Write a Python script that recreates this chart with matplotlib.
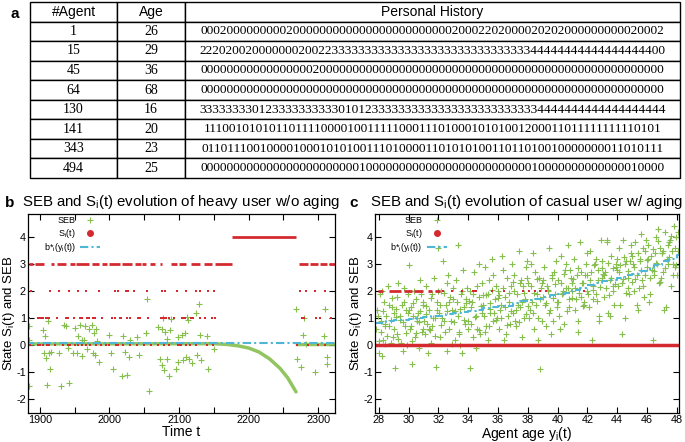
import matplotlib
matplotlib.use('Agg')
import matplotlib.pyplot as plt
from matplotlib.lines import Line2D

plt.rcParams['font.family'] = ['Liberation Sans', 'DejaVu Sans']
plt.rcParams['mathtext.default'] = 'regular'
plt.rcParams['axes.unicode_minus'] = False

RED = '#d42a2f'
GREEN = '#86bf4e'
CYAN = '#4fb6d6'

# ---- panel a: table ----
col_labels = ['#Agent', 'Age', 'Personal History']
agents = ['1', '15', '45', '64', '130', '141', '343', '494']
ages = ['26', '29', '36', '68', '16', '20', '23', '25']
histories = [
    '0002000000000200000000000000000000000020002202000020202000000000020002',
    '2220200200000002002233333333333333333333333333333344444444444444444400',
    '0000000000000000020000000000000000000000000000000000000000000000000000',
    '0000000000000000000000000000000000000000000000000000000000000000000000',
    '3333333301233333333330101233333333333333333333333334444444444444444444',
    '1110010101011011110000100111110001110100010101001200011011111111110101',
    '0110111001000010001010100111010000110101010011011010010000000011010111',
    '0000000000000000000000001000000000000000000000000010000000000000010000',
]

# ---- panel b: heavy user w/o aging ----
b_seb_t = [1884, 1885, 1885, 1905, 1906, 1908, 1909, 1910, 1912, 1913, 1914, 1916,
           1928, 1930, 1935, 1938, 1940, 1942, 1947, 1951, 1953, 1955, 1957, 1960,
           1961, 1963, 1965, 1968, 1970, 1975, 1976, 1978, 1979, 1980, 1982, 1985,
           2000, 2002, 2005, 2018, 2020, 2022, 2025, 2028, 2030, 2040, 2042, 2053,
           2054, 2057, 2070, 2072, 2075, 2076, 2077, 2079, 2080, 2082, 2083, 2085,
           2087, 2088, 2096, 2098, 2099, 2104, 2106, 2108, 2110, 2111, 2113, 2114,
           2118, 2124, 2126, 2128, 2130, 2131, 2140, 2141, 2150, 2268, 2270, 2275,
           2278, 2279, 2282, 2295, 2308, 2309, 2312, 2313]
b_seb_v = [0.70, 0.20, -1.52, 0.55, -0.30, 0.35, -0.48, -1.45, 0.88, -0.28, -0.88, -0.25,
           -0.27, -1.50, 0.75, 0.72, -0.10, -1.38, -0.28, 0.63, -0.30, 0.35, 0.75, -0.38,
           0.18, 0.20, 0.73, -0.12, 0.60, 0.75, -0.28, 0.45, -0.35, 0.60, 0.15, -0.62,
           0.38, -0.30, -0.88, -1.12, 0.36, -0.25, -1.08, -0.44, 0.20, 0.30, -0.35, 0.47,
           1.72, -1.70, 0.68, -0.50, 0.62, -0.73, 1.00, -0.90, 0.48, -0.50, 0.22, -1.12,
           0.58, 0.98, -0.86, 0.32, -0.60, 0.38, -0.55, 0.45, -0.43, 1.05, 0.95, -0.50,
           -0.65, 1.20, -0.37, 1.52, 0.37, -0.55, 0.35, -0.87, -0.12, 1.33, -0.50, -0.80,
           0.38, 1.02, 0.05, -0.98, 0.36, 1.33, -0.45, -0.68]
# dense SEB band and its decay while the user sits in state 4
b_trend_t = [1880, 2150, 2170, 2185, 2200, 2215, 2230, 2245, 2256, 2268]
b_trend_v = [0.05, 0.06, 0.03, -0.02, -0.10, -0.25, -0.50, -0.85, -1.20, -1.72]
b_trend2_t = [2270, 2325]
b_trend2_v = [0.05, 0.05]
b_bstar_t = [1880, 2325]
b_bstar_v = [0.08, 0.08]
b_s3_runs = [(1884, 1890), (1893, 1906), (1916, 1921), (1924, 1938), (1944, 1950),
             (1952, 1970), (1975, 1985), (1990, 1996), (1999, 2015), (2018, 2032),
             (2037, 2045), (2047, 2052), (2058, 2066), (2072, 2076), (2088, 2097),
             (2100, 2110), (2117, 2130), (2136, 2148), (2151, 2176),
             (2272, 2285), (2288, 2300), (2303, 2312), (2315, 2324)]
b_s4_runs = [(2176, 2268)]
b_s2_t = [1888, 1914, 1928, 1942, 1955, 1967, 1985, 2008, 2013, 2024, 2027, 2035, 2054,
          2075, 2080, 2097, 2110, 2125, 2130, 2141, 2150, 2274, 2282, 2295, 2310]
b_s1_t = [1885, 1898, 1900, 1902, 1904, 1909, 1911, 1913, 1925, 1937, 1939, 1941, 1949,
          1957, 1960, 1968, 1970, 1977, 1979, 1990, 2003, 2008, 2015, 2017, 2025, 2029,
          2041, 2044, 2056, 2074, 2076, 2078, 2081, 2085, 2093, 2104, 2107, 2109, 2117,
          2120, 2130, 2137, 2148, 2151, 2277, 2280, 2296, 2303, 2318]
b_s0_t = [1884, 1886, 1898, 1900, 1904, 1910, 1913, 1922, 1933, 1940, 1943, 1950, 1955,
          1961, 1966, 1972, 1981, 1988, 1995, 2000, 2010, 2013, 2020, 2030, 2040, 2050,
          2060, 2070, 2078, 2085, 2098, 2100, 2103, 2110, 2115, 2125, 2140, 2149, 2270,
          2285, 2300, 2310]

# ---- panel c: casual user w/ aging ----
c_seb_age = [
    27.85, 27.9, 28.0, 28.05, 28.1, 28.15, 28.2, 28.25, 28.3, 28.35, 28.4, 28.45, 28.5, 28.6, 28.7, 28.8, 28.9, 28.95,
    29.05, 29.1, 29.15, 29.2, 29.25, 29.3, 29.4, 29.5, 29.55, 29.6, 29.7, 29.75, 29.8, 29.9, 29.95,
    30.0, 30.1, 30.15, 30.2, 30.25, 30.3, 30.4, 30.45, 30.5, 30.55, 30.6, 30.7, 30.75, 30.8, 30.9, 30.95,
    31.0, 31.1, 31.15, 31.2, 31.25, 31.3, 31.4, 31.45, 31.5, 31.55, 31.6, 31.7, 31.8, 31.85, 31.9,
    32.0, 32.05, 32.1, 32.2, 32.25, 32.3, 32.4, 32.5, 32.55, 32.6, 32.65, 32.7, 32.8, 32.9, 32.95,
    33.0, 33.1, 33.15, 33.2, 33.3, 33.35, 33.4, 33.45, 33.5, 33.6, 33.65, 33.7, 33.8, 33.85, 33.9,
    34.0, 34.1, 34.15, 34.2, 34.25, 34.3, 34.4, 34.5, 34.55, 34.6, 34.7, 34.75, 34.8, 34.9, 34.95,
    35.0, 35.1, 35.15, 35.2, 35.3, 35.35, 35.4, 35.45, 35.5, 35.6, 35.65, 35.7, 35.8, 35.9, 35.95,
    36.0, 36.1, 36.15, 36.2, 36.3, 36.35, 36.4, 36.5, 36.55, 36.6, 36.7, 36.75, 36.8, 36.9, 36.95,
    37.0, 37.1, 37.15, 37.2, 37.3, 37.35, 37.4, 37.5, 37.55, 37.6, 37.7, 37.75, 37.8, 37.9, 37.95,
    38.0, 38.1, 38.15, 38.2, 38.3, 38.35, 38.4, 38.5, 38.55, 38.6, 38.7, 38.75, 38.8, 38.9, 38.95,
    39.0, 39.1, 39.15, 39.2, 39.3, 39.35, 39.4, 39.5, 39.55, 39.6, 39.7, 39.75, 39.8, 39.9, 39.95,
    40.0, 40.1, 40.15, 40.2, 40.3, 40.35, 40.4, 40.5, 40.55, 40.6, 40.7, 40.75, 40.8, 40.9, 40.95,
    41.0, 41.1, 41.15, 41.2, 41.3, 41.35, 41.4, 41.5, 41.55, 41.6, 41.7, 41.75, 41.8, 41.9, 41.95,
    42.0, 42.1, 42.15, 42.2, 42.3, 42.35, 42.4, 42.5, 42.55, 42.6, 42.7, 42.75, 42.8, 42.9, 42.95,
    43.0, 43.1, 43.15, 43.2, 43.3, 43.35, 43.4, 43.5, 43.55, 43.6, 43.7, 43.75, 43.8, 43.9, 43.95,
    44.0, 44.1, 44.15, 44.2, 44.3, 44.35, 44.4, 44.5, 44.55, 44.6, 44.7, 44.75, 44.8, 44.9, 44.95,
    45.0, 45.1, 45.15, 45.2, 45.3, 45.35, 45.4, 45.5, 45.55, 45.6, 45.7, 45.75, 45.8, 45.9, 45.95,
    46.0, 46.1, 46.15, 46.2, 46.3, 46.35, 46.4, 46.5, 46.55, 46.6, 46.7, 46.75, 46.8, 46.9, 46.95,
    47.0, 47.1, 47.15, 47.2, 47.3, 47.35, 47.4, 47.5, 47.55, 47.6, 47.7, 47.75, 47.8, 47.9, 47.95,
    48.0, 48.05, 48.1,
    27.95, 28.12, 28.28, 28.42, 28.55, 28.68, 28.82, 28.92,
    29.02, 29.18, 29.32, 29.45, 29.62, 29.72, 29.85, 29.98,
    30.05, 30.18, 30.33, 30.48, 30.62, 30.72, 30.85, 30.98,
    31.05, 31.18, 31.35, 31.48, 31.62, 31.75, 31.88, 31.98,
    32.08, 32.18, 32.35, 32.45, 32.58, 32.72, 32.85, 32.98,
    33.05, 33.22, 33.38, 33.48, 33.62, 33.72, 33.88, 33.98,
    34.05, 34.18, 34.35, 34.45, 34.62, 34.72, 34.85, 34.98,
    35.05, 35.22, 35.38, 35.48, 35.58, 35.72, 35.85, 35.98,
    36.05, 36.22, 36.32, 36.45, 36.62, 36.72, 36.85, 36.98,
    37.05, 37.22, 37.38, 37.45, 37.62, 37.72, 37.85, 37.98,
    38.05, 38.22, 38.32, 38.45, 38.62, 38.72, 38.85, 38.98,
    39.05, 39.22, 39.38, 39.45, 39.62, 39.72, 39.85, 39.98,
    40.05, 40.22, 40.38, 40.45, 40.62, 40.72, 40.85, 40.98,
    41.05, 41.22, 41.38, 41.45, 41.62, 41.72, 41.85, 41.98,
    42.05, 42.22, 42.38, 42.45, 42.62, 42.72, 42.85, 42.98,
    43.05, 43.22, 43.38, 43.45, 43.62, 43.72, 43.85, 43.98,
    44.05, 44.22, 44.38, 44.45, 44.62, 44.72, 44.85, 44.98,
    45.05, 45.22, 45.38, 45.45, 45.62, 45.72, 45.85, 45.98,
    46.05, 46.22, 46.38, 46.45, 46.62, 46.72, 46.85, 46.98,
    47.05, 47.22, 47.38, 47.45, 47.62, 47.72, 47.85, 47.98,
]
c_seb_val = [
    0.6, 1.3, -0.3, 0.15, 1.9, 0.9, -0.4, 2.0, 0.2, 1.6, 0.05, 0.8, 1.1, 2.2, 0.7, 0.1, 1.4, 0.3,
    1.2, -0.85, 1.05, 0.4, 1.8, 2.3, 0.95, 0.1, 1.5, -0.2, 2.1, 0.7, 1.3, 0.0, 1.9,
    2.95, 0.6, 1.4, -0.7, 0.15, 1.1, 2.0, 0.3, 1.7, 1.0, 0.9, -0.1, 2.4, 1.25, 0.5, 1.6,
    1.5, 0.4, 1.15, 2.2, 0.8, -0.3, 1.3, 0.55, 0.1, 1.9, 0.7, 2.5, 1.0, -0.8, 1.6,
    3.6, 1.2, 0.3, 2.0, 1.0, 3.1, 0.9, 1.5, -0.2, 2.3, 2.6, 0.6, 1.8, 0.05, 1.3,
    1.7, 0.2, 1.25, 2.4, 3.72, 1.1, 0.5, 0.0, 1.9, -0.3, 2.8, 1.4, 0.8, 1.55, 2.1,
    0.9, -0.85, 2.0, 1.4, 1.6, 0.3, 2.7, 1.1, -0.1, 0.6, 1.8, 3.0, 0.4, 2.3, 1.2,
    1.5, 2.9, 0.5, 0.7, 1.9, 0.2, 2.4, 1.35, 1.2, 3.2, 2.6, 0.9, 1.7, 2.2, 1.0,
    2.0, 0.6, 1.3, 1.5, 3.3, 2.8, 0.2, 1.8, 0.4, 2.5, 1.1, 1.6, 0.8, 2.2, 3.0,
    1.2, 2.6, 0.9, 0.7, 1.9, 1.5, 3.5, 1.4, 2.4, 0.3, 2.2, 1.0, 1.7, 2.9, 3.1,
    2.3, 1.0, 1.3, 3.0, 1.6, 3.4, 0.6, 2.7, 1.5, 1.9, 0.2, 2.5, -0.87, 2.1, 0.9,
    1.8, 2.9, 1.5, 0.7, 2.2, 2.0, 3.6, 1.3, 0.4, 2.5, 0.9, 2.7, 1.9, 3.1, 1.6,
    2.4, 1.1, 0.6, 3.3, 1.9, 2.0, 0.8, 2.8, 3.0, 2.1, 3.7, 1.7, 1.4, 2.5, 2.3,
    2.0, 3.2, 2.1, 1.3, 2.6, 0.5, 0.9, 3.8, 2.7, 1.8, 2.3, 1.6, 1.5, 3.0, 3.4,
    2.6, 1.4, 2.4, 3.5, 0.2, 1.7, 2.2, 3.0, 3.2, 1.9, 2.8, 0.9, 1.1, 3.9, 2.5,
    3.1, 1.8, 2.6, 2.7, 3.8, 3.9, 1.2, 2.4, 1.1, 3.3, 2.0, 2.2, 1.5, 3.0, 2.9,
    2.8, 3.6, 2.7, 1.5, 2.3, 0.4, 3.9, 1.0, 3.0, 3.1, 2.5, 2.1, 1.9, 3.4, 3.7,
    3.3, 2.0, 2.9, 3.8, 2.6, 1.5, 1.3, 3.1, 3.2, 4.1, 2.4, 2.2, 1.8, 3.5, 3.9,
    2.9, 3.7, 1.6, 1.9, 3.3, 2.8, 0.2, 2.6, 3.4, 4.0, 3.0, 4.3, 2.3, 3.6, 2.5,
    3.4, 2.7, 1.3, 4.2, 1.4, 3.2, 3.0, 3.8, 3.9, 2.2, 3.5, 2.6, 4.4, 2.9, 4.0,
    2.6, 4.2, 3.5,
    1.1, 0.5, 1.25, 0.7, 0.35, 1.5, 0.95, 1.75,
    0.6, 1.35, 0.25, 1.1, 0.85, 1.6, 0.45, 1.2,
    1.3, 0.7, 1.55, 0.45, 1.2, 0.85, 1.9, 0.6,
    0.9, 1.45, 0.6, 1.75, 1.0, 0.35, 1.3, 2.0,
    1.5, 0.75, 1.95, 0.5, 1.25, 1.6, 0.9, 2.1,
    0.85, 1.6, 0.4, 1.35, 2.0, 0.95, 1.7, 0.6,
    1.65, 0.8, 1.9, 1.05, 2.2, 0.55, 1.45, 1.85,
    1.1, 1.85, 0.7, 1.55, 2.05, 1.2, 0.95, 1.75,
    1.85, 1.0, 2.1, 1.4, 0.75, 1.95, 1.25, 2.35,
    2.0, 1.3, 0.85, 2.3, 1.6, 1.95, 1.15, 2.5,
    1.45, 2.2, 1.2, 1.95, 2.45, 1.0, 1.7, 2.3,
    2.4, 1.55, 2.05, 1.2, 2.6, 1.75, 2.25, 1.4,
    1.6, 2.3, 1.95, 2.65, 1.25, 2.1, 2.8, 1.75,
    2.45, 1.7, 2.85, 1.95, 2.3, 1.45, 2.6, 2.0,
    1.9, 2.7, 2.05, 2.95, 1.65, 2.4, 2.15, 2.85,
    2.65, 2.1, 3.05, 1.85, 2.5, 2.85, 2.25, 3.2,
    2.2, 2.95, 2.45, 3.25, 1.95, 2.75, 3.1, 2.35,
    3.0, 2.45, 3.4, 2.1, 2.8, 3.6, 2.6, 3.15,
    3.2, 2.5, 3.55, 2.75, 3.05, 3.85, 2.35, 3.4,
    3.5, 2.85, 3.7, 3.25, 4.05, 3.0, 3.6, 2.95,
]
c_bstar_age = [27.75, 28.5, 29.0, 29.5, 30.0, 30.5, 31.0, 31.5, 32.0, 32.5, 33.0, 33.5,
               34.0, 34.5, 35.0, 35.5, 36.0, 36.5, 37.0, 37.5, 38.0, 38.5, 39.0, 39.5,
               40.0, 40.5, 41.0, 41.5, 42.0, 42.5, 43.0, 43.5, 44.0, 44.5, 45.0, 45.5,
               46.0, 46.5, 47.0, 47.5, 48.0, 48.2]
c_bstar_val = [0.82, 0.88, 0.92, 0.95, 0.98, 1.02, 1.05, 1.08, 1.10, 1.14, 1.18, 1.22,
               1.27, 1.32, 1.36, 1.42, 1.45, 1.47, 1.55, 1.62, 1.68, 1.72, 1.78, 1.85,
               1.88, 1.95, 2.05, 2.12, 2.22, 2.30, 2.38, 2.42, 2.50, 2.58, 2.65, 2.75,
               2.82, 2.95, 3.10, 3.18, 3.35, 3.40]
c_s0_runs = [(27.75, 48.15)]
c_s2_runs = [(27.95, 28.3), (28.7, 29.5), (29.7, 30.2), (30.35, 31.0), (31.3, 31.6), (31.8, 32.1)]
c_s2_age = [32.3, 32.9, 33.6, 34.3, 34.4, 34.5, 35.6, 36.4, 37.7, 38.1, 38.5, 38.8, 39.2, 41.8]

fig = plt.figure(figsize=(6.85, 4.42), dpi=100)

# table
tax = fig.add_axes([30 / 685, 1 - 178 / 442, 650 / 685, 176 / 442])
tax.axis('off')
cell_text = [[a, g, h] for a, g, h in zip(agents, ages, histories)]
tbl = tax.table(cellText=cell_text, colLabels=col_labels, colWidths=[87, 68, 495],
                cellLoc='center', bbox=[0, 0, 1, 1])
tbl.auto_set_font_size(False)
for (r, c), cell in tbl.get_celld().items():
    cell.set_linewidth(1.0)
    txt = cell.get_text()
    if r == 0:
        txt.set_fontfamily(['Liberation Sans'])
        txt.set_fontsize(10)
    else:
        txt.set_fontfamily(['Liberation Serif'])
        txt.set_fontsize(9.6 if c == 2 else 10)

fig.text(15 / 685, 1 - 14 / 442, 'a', fontsize=11, fontweight='bold', ha='center', va='center')
fig.text(10 / 685, 1 - 203 / 442, 'b', fontsize=11, fontweight='bold', ha='center', va='center')
fig.text(354 / 685, 1 - 203 / 442, 'c', fontsize=11, fontweight='bold', ha='center', va='center')

DASHDOT = (0, (4, 1.5, 1, 1.5))


def style_axes(ax):
    ax.set_ylim(-2.5, 4.85)
    ax.set_yticks([-2, -1, 0, 1, 2, 3, 4])
    ax.tick_params(direction='in', length=4, width=0.8, top=True, right=True,
                   labelsize=7.8, pad=1.5)
    for s in ax.spines.values():
        s.set_linewidth(0.9)
    ax.set_ylabel('State S$_i$(t) and SEB', fontsize=9.5)
    ax.yaxis.set_label_coords(-11 / 307, 0.5)


def legend(ax):
    handles = [
        Line2D([], [], color=GREEN, marker='+', ls='none', markersize=4, mew=0.8),
        Line2D([], [], color=RED, marker='o', ls='none', markersize=4),
        Line2D([], [], color=CYAN, ls=DASHDOT, lw=1.5),
    ]
    labels = ['SEB', 'S$_i$(t)', 'b*$_i$(y$_i$(t))']
    ax.legend(handles, labels, loc='upper left', bbox_to_anchor=(0.03, 1.02),
              frameon=False, fontsize=6.5, markerfirst=False, handlelength=2.2,
              handletextpad=0.5, labelspacing=0.15, borderpad=0.2)


# panel b
axb = fig.add_axes([28 / 685, 1 - 413 / 442, 307 / 685, 199 / 442])
axb.plot(b_trend_t, b_trend_v, color=GREEN, lw=2.5, alpha=0.9, solid_capstyle='round')
axb.plot(b_trend2_t, b_trend2_v, color=GREEN, lw=2.5, alpha=0.9)
axb.plot(b_seb_t, b_seb_v, '+', color=GREEN, markersize=4, mew=0.8)
for lvl, runs in [(3, b_s3_runs), (4, b_s4_runs)]:
    for t0, t1 in runs:
        axb.hlines(lvl, t0, t1, color=RED, lw=2)
for lvl, ts in [(2, b_s2_t), (1, b_s1_t), (0, b_s0_t)]:
    axb.plot(ts, [lvl] * len(ts), 's', color=RED, markersize=1.8, mew=0)
axb.plot(b_bstar_t, b_bstar_v, color=CYAN, ls=DASHDOT, lw=1.5)
axb.set_xlim(1883, 2324)
axb.set_xticks([1900, 1950, 2000, 2050, 2100, 2150, 2200, 2250, 2300])
axb.set_xticklabels(['1900', '', '2000', '', '2100', '', '2200', '', '2300'])
style_axes(axb)
axb.set_xlabel('Time t', fontsize=10, labelpad=0)
axb.set_title('SEB and S$_i$(t) evolution of heavy user w/o aging', fontsize=10.8, pad=6)
legend(axb)

# panel c
axc = fig.add_axes([375 / 685, 1 - 413 / 442, 304 / 685, 199 / 442])
axc.plot(c_seb_age, c_seb_val, '+', color=GREEN, markersize=4, mew=0.8)
for t0, t1 in c_s0_runs:
    axc.hlines(0, t0, t1, color=RED, lw=2.5)
for t0, t1 in c_s2_runs:
    axc.hlines(2, t0, t1, color=RED, lw=2)
axc.plot(c_s2_age, [2] * len(c_s2_age), 's', color=RED, markersize=1.8, mew=0)
axc.plot(c_bstar_age, c_bstar_val, color=CYAN, ls=DASHDOT, lw=1.5, drawstyle='steps-post')
axc.set_xlim(27.75, 48.15)
axc.set_xticks(range(28, 49, 2))
style_axes(axc)
axc.set_xlabel('Agent age y$_i$(t)', fontsize=10, labelpad=0)
axc.set_title('SEB and S$_i$(t) evolution of casual user w/ aging', fontsize=10.8, pad=6)
legend(axc)

fig.savefig('out.png', dpi=100)
